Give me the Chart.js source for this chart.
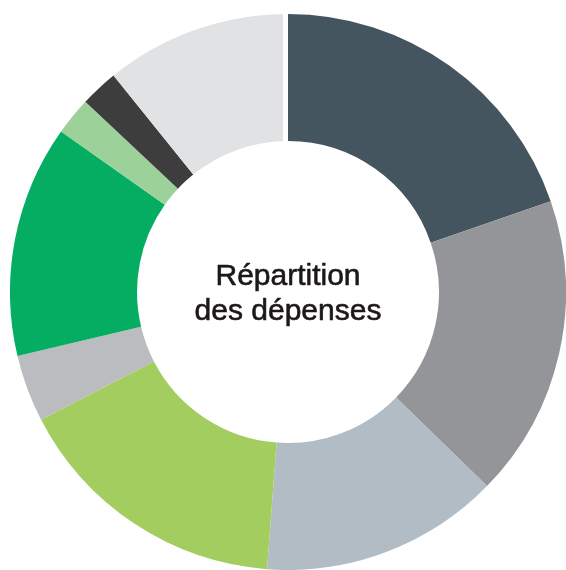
<!DOCTYPE html>
<html>
<head>
<meta charset="utf-8">
<script src="https://cdn.jsdelivr.net/npm/chart.js@4"></script>
<style>
  html, body { margin: 0; padding: 0; background: #ffffff; overflow: hidden; width: 566px; height: 570px; }
  #wrap { position: absolute; left: 10px; top: 14px; width: 556px; height: 556px; }
</style>
</head>
<body>
<div id="wrap"><canvas id="c"></canvas></div>
<script>
// Data (share of total, %)
const categories = [
  "Catégorie 1", "Catégorie 2", "Catégorie 3", "Catégorie 4", "Catégorie 5",
  "Catégorie 6", "Catégorie 7", "Catégorie 8", "Catégorie 9"
];
const values = [19.7, 17.6, 13.9, 16.2, 3.9, 13.5, 2.2, 2.2, 10.8];
const colors = [
  "#455560", "#949598", "#b1bcc5", "#a3cd5e", "#bbbcbf",
  "#04ad62", "#9cd29a", "#3d3d3d", "#e1e2e4"
];
const centerLines = ["Répartition", "des dépenses"];

const centerPlugin = {
  id: "centerAndGap",
  afterDatasetsDraw(chart) {
    const arcs = chart.getDatasetMeta(0).data;
    if (!arcs.length) return;
    const a = arcs[0];
    const ctx = chart.ctx;
    const cx = a.x, cy = a.y;
    // white separator at the start of the ring
    const ang = a.startAngle;
    ctx.save();
    ctx.strokeStyle = "#ffffff";
    ctx.lineWidth = 5;
    ctx.beginPath();
    ctx.moveTo(cx - 2.5 + Math.cos(ang) * (a.innerRadius - 2), cy + Math.sin(ang) * (a.innerRadius - 2));
    ctx.lineTo(cx - 2.5 + Math.cos(ang) * (a.outerRadius + 2), cy + Math.sin(ang) * (a.outerRadius + 2));
    ctx.stroke();
    // center text
    ctx.fillStyle = "#1c1819";
    ctx.strokeStyle = "#1c1819";
    ctx.lineWidth = 0.6;
    ctx.lineJoin = "round";
    ctx.font = "30px 'Liberation Sans', Arial, sans-serif";
    ctx.textAlign = "center";
    ctx.textBaseline = "alphabetic";
    ctx.fillText(centerLines[0], cx, cy - 7);
    ctx.strokeText(centerLines[0], cx, cy - 7);
    ctx.fillText(centerLines[1], cx, cy + 28);
    ctx.strokeText(centerLines[1], cx, cy + 28);
    ctx.restore();
  }
};

new Chart(document.getElementById("c"), {
  type: "doughnut",
  data: {
    labels: categories,
    datasets: [{
      data: values,
      backgroundColor: colors,
      borderWidth: 0,
      hoverOffset: 0
    }]
  },
  options: {
    responsive: true,
    maintainAspectRatio: false,
    animation: false,
    cutout: "54.3%",
    layout: { padding: 0 },
    plugins: {
      legend: { display: false },
      tooltip: { enabled: false }
    }
  },
  plugins: [centerPlugin]
});
</script>
</body>
</html>
